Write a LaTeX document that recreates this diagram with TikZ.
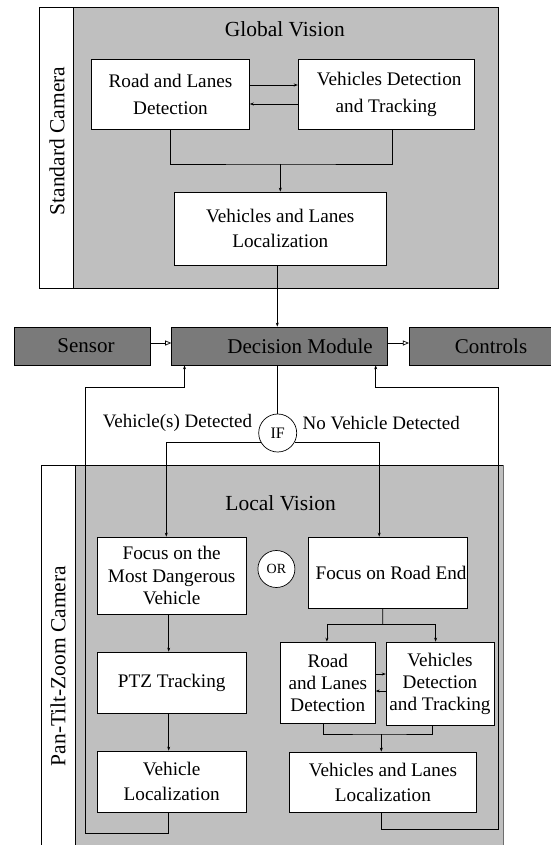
\documentclass[tikz,border=0pt]{standalone}
\usepackage{fontspec}
\setmainfont{Liberation Serif}
\usetikzlibrary{arrows.meta,calc}
\definecolor{lgray}{RGB}{191,191,191}
\definecolor{dgray}{RGB}{122,122,122}
\definecolor{sgray}{RGB}{110,110,110}
\begin{document}
\begin{tikzpicture}[x=1pt,y=-1pt,line width=0.7pt,
  box/.style={draw,fill=white,inner sep=0pt,align=center,font=\fontsize{19.2}{23}\selectfont},
  dark/.style={draw,fill=dgray,inner sep=0pt,minimum height=38pt,font=\fontsize{21}{25}\selectfont},
  ttl/.style={inner sep=0pt,font=\fontsize{21.5}{25}\selectfont},
  lbl/.style={inner sep=0pt,font=\fontsize{19}{23}\selectfont},
  arr/.style={-{Stealth[length=4pt,width=3pt]}},
  oarr/.style={-{Triangle[open,length=6pt,width=5pt]}},
  circ/.style={draw,fill=white,circle,minimum size=38pt,inner sep=0pt}
]
\useasboundingbox (0,0) rectangle (550,845);

% containers
\fill[lgray] (39.3,7) rectangle (498.8,288);
\draw[fill=white] (39.3,7) rectangle (73.3,288);
\draw (39.3,7) rectangle (498.8,288);

\fill[lgray] (41.4,465) rectangle (504,860);
\draw[fill=white] (41.4,465) rectangle (75.8,860);
\draw (41.4,860) -- (41.4,465) -- (503,465);
\draw[sgray,line width=1.6pt] (503.5,465) -- (503.5,860);

% titles
\node[ttl] (gv) at (284.8,29) {Global Vision};
\node[ttl,rotate=90] (std) at (57,141) {Standard Camera};
\node[ttl] (lv) at (280.6,503) {Local Vision};
\node[ttl,rotate=90] (ptzc) at (58,666) {Pan-Tilt-Zoom Camera};

% top boxes
\node[box,minimum width=157.9pt,minimum height=70pt,font=\fontsize{19.2}{27}\selectfont] (rld) at (170.5,94) {Road and Lanes\\Detection};
\node[box,minimum width=176.1pt,minimum height=70pt,font=\fontsize{19.2}{27}\selectfont] (vdt) at (386.2,94) {\hspace*{6pt}Vehicles Detection\\and Tracking};
\node[box,minimum width=211.9pt,minimum height=73pt,font=\fontsize{19.2}{25}\selectfont] (vll) at (280.3,228.5) {Vehicles and Lanes\\Localization};

% middle row
\node[dark,minimum width=136.1pt] (sensor) at (82,346) {\hspace*{8pt}Sensor};
\node[dark,minimum width=216.1pt] (dm) at (279.6,346) {\hspace*{41pt}Decision Module};
\node[dark,minimum width=163.4pt] (ctrl) at (491,346) {Controls};

\node[circ,font=\fontsize{16}{18}\selectfont] (if) at (277.7,433) {IF};
\node[lbl,anchor=east] (vd) at (252.5,423) {Vehicle(s) Detected};
\node[lbl,anchor=west] (nvd) at (302.3,423) {No Vehicle Detected};

% lower boxes
\node[box,minimum width=149pt,minimum height=77pt,font=\fontsize{19.2}{22.5}\selectfont] (fmd) at (171.7,575.5) {Focus on the\\Most Dangerous\\Vehicle};
\node[circ,minimum size=37pt,font=\fontsize{14}{16}\selectfont] (or) at (276.4,569) {OR};
\node[box,minimum width=158.6pt,minimum height=71pt] (fre) at (387.6,572.5) {\hspace*{7pt}Focus on Road End};
\node[box,minimum width=95pt,minimum height=81pt,font=\fontsize{19.2}{22}\selectfont] (srl) at (327.8,682.5) {Road\\and Lanes\\Detection};
\node[box,minimum width=107.7pt,minimum height=83pt,font=\fontsize{19.2}{22}\selectfont] (svd) at (440,683.5) {Vehicles\\Detection\\and Tracking};
\node[box,minimum width=186.3pt,minimum height=60pt,font=\fontsize{19.2}{25}\selectfont] (svl) at (382.9,782) {Vehicles and Lanes\\Localization};
\node[box,minimum width=149pt,minimum height=61pt] (ptz) at (171.7,682.5) {PTZ Tracking};
\node[box,minimum width=149pt,minimum height=61pt,font=\fontsize{19.2}{25}\selectfont] (vl) at (171.7,781.5) {Vehicle\\Localization};

% junction coordinates
\coordinate (j1) at (280.3,164);
\coordinate (j2) at (382.7,624);
\coordinate (j3) at (381.3,734);
\coordinate (fbl1) at (85.2,833);
\coordinate (fbl2) at (85.2,387);
\coordinate (fbr1) at (498.4,829);
\coordinate (fbr2) at (498.4,387);

% top connectors
\draw[arr] ([yshift=9pt]rld.east) -- ([yshift=9pt]rld.east -| vdt.west);
\draw[arr] ([yshift=-10pt]rld.east -| vdt.west) -- ([yshift=-10pt]rld.east);
\draw (rld.south) |- (j1) -| ([xshift=6.3pt]vdt.south);
\draw[arr] (j1) -- (vll.north);
\draw[arr] ([xshift=-3pt]vll.south) -- ([xshift=-3pt]vll.south |- dm.north);

% middle connectors
\draw[oarr] ([yshift=3pt]sensor.east) -- ([yshift=3pt]dm.west);
\draw[oarr] ([yshift=3pt]dm.east) -- ([yshift=3pt]ctrl.west);
\draw (if.north |- dm.south) -- (if.north);
\draw[arr] (if.208) -| ([xshift=-5.4pt]fmd.north);
\draw[arr] (if.-28) -| ([xshift=-8.4pt]fre.north);

% lower connectors
\draw ([xshift=-4.9pt]fre.south) -- (j2);
\draw[arr] (j2) -| ([xshift=-0.9pt]srl.north);
\draw[arr] (j2) -| ([xshift=-4.4pt]svd.north);
\draw[arr] ([yshift=8.5pt]srl.east) -- ([yshift=8.5pt]srl.east -| svd.west);
\draw[arr] ([yshift=-8.5pt]srl.east -| svd.west) -- ([yshift=-8.5pt]srl.east);
\draw ([xshift=-4.1pt]srl.south) |- (j3) -| ([xshift=-7.5pt]svd.south);
\draw[arr] (j3) -- (j3 |- svl.north);
\draw[arr] ([xshift=-3pt]fmd.south) -- ([xshift=-3pt]ptz.north);
\draw[arr] ([xshift=-3pt]ptz.south) -- ([xshift=-3pt]vl.north);

% feedback loops
\draw[arr] ([xshift=-3pt]vl.south) |- (fbl1) -- (fbl2) -| ([xshift=-95.1pt]dm.south);
\draw[arr] ([xshift=-1.6pt]svl.south) |- (fbr1) -- (fbr2) -| ([xshift=96.1pt]dm.south);
\end{tikzpicture}
\end{document}
